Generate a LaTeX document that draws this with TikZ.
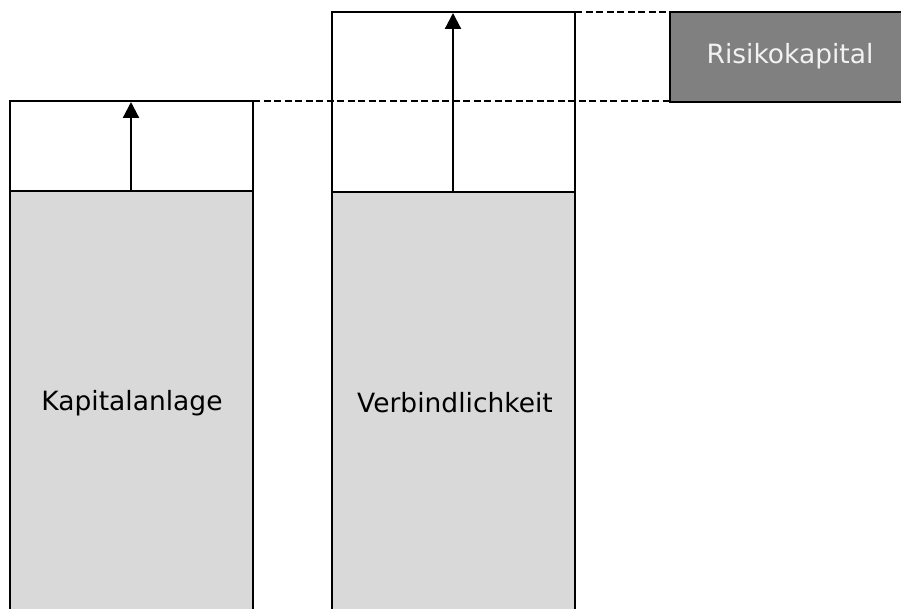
\documentclass[tikz,border=0pt]{standalone}
\usepackage{fontspec}
\setmainfont{DejaVu Sans}
\usetikzlibrary{arrows.meta}

\tikzset{
  colbox/.style={draw=black, line width=1.8pt, fill=black!15},
  topbox/.style={draw=black, line width=1.8pt, fill=white},
  riskbox/.style={draw=black, line width=1.8pt, fill=black!50},
  guide/.style={line width=1.7pt, dash pattern=on 7pt off 3.5pt},
  growth/.style={-{Triangle[length=16pt,width=16pt]}, line width=2.2pt},
  boxtext/.style={font=\fontsize{26.5}{30}\selectfont, inner sep=0pt},
}

\begin{document}
\begin{tikzpicture}[x=1pt,y=-1pt]
  \useasboundingbox (0,0) rectangle (901,609);
  \clip (0,0) rectangle (901,609);
  % Kapitalanlage
  \filldraw[colbox] (10,191) rectangle (253,620);
  \filldraw[topbox] (10,101) rectangle (253,191);
  \node[boxtext] (ka) at (132,403) {Kapitalanlage};
  \coordinate (kaBase) at (131,191);
  \coordinate (kaTop) at (131,102);
  \draw[growth] (kaBase) -- (kaTop);
  % Verbindlichkeit
  \filldraw[colbox] (332,192) rectangle (575,620);
  \filldraw[topbox] (332,12) rectangle (575,192);
  \node[boxtext] (vb) at (455,403) {Verbindlichkeit};
  \coordinate (vbBase) at (453,192);
  \coordinate (vbTop) at (453,13);
  \draw[growth] (vbBase) -- (vbTop);
  % Risikokapital
  \filldraw[riskbox] (670,12) rectangle (910,102);
  \node[boxtext, text=black!5] (rk) at (790,56) {Risikokapital};
  % Hilfslinien
  \draw[guide] (253,101) -- (670,101);
  \draw[guide] (575,12) -- (670,12);
\end{tikzpicture}
\end{document}
